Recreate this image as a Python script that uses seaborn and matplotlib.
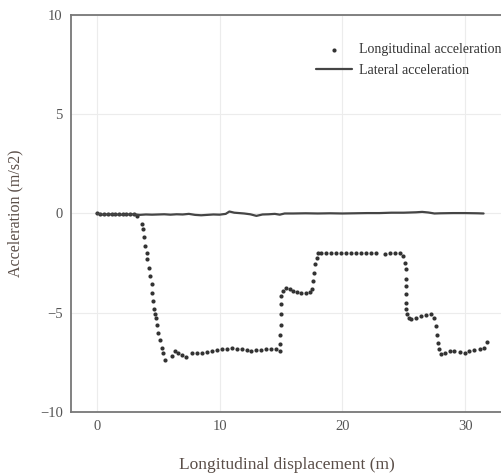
import matplotlib
matplotlib.use("Agg")
import matplotlib.pyplot as plt
import seaborn as sns
import pandas as pd

# Longitudinal acceleration (dots)
lon_x = [0.0, 0.3, 0.6, 0.9, 1.2, 1.5, 1.8, 2.1, 2.4, 2.7, 3.0, 3.25,
         3.66, 3.8, 3.85, 3.93, 4.07, 4.12, 4.25, 4.34, 4.47, 4.53, 4.6, 4.66,
         4.74, 4.8, 4.88, 5.0, 5.15, 5.28, 5.42, 5.56,
         6.1, 6.37, 6.64, 6.91, 7.26, 7.72, 8.13, 8.54, 8.94, 9.35, 9.76,
         10.16, 10.57, 10.98, 11.38, 11.79, 12.2, 12.6, 13.0, 13.4, 13.8,
         14.2, 14.58, 14.9, 14.9, 14.95, 14.97, 14.97, 14.98, 15.0,
         15.18, 15.45, 15.7, 16.0, 16.3, 16.67, 17.0, 17.34, 17.56,
         17.6, 17.67, 17.75, 17.9, 18.0, 18.3, 18.7, 19.1, 19.5, 19.9, 20.3,
         20.7, 21.1, 21.5, 21.95, 22.36, 22.76, 23.44, 23.85, 24.25, 24.66,
         24.93, 25.07, 25.15, 25.15, 25.15, 25.15, 25.2, 25.2, 25.26, 25.42,
         25.6, 26.0, 26.4, 26.8, 27.2, 27.5, 27.64, 27.7, 27.78, 27.86,
         28.05, 28.32, 28.73, 29.13, 29.54, 29.95, 30.35, 30.76, 31.17,
         31.57, 31.76]
lon_y = [0.0, -0.03, -0.02, -0.03, -0.04, -0.03, -0.05, -0.04, -0.03, -0.04, -0.05, -0.12,
         -0.54, -0.8, -1.2, -1.63, -1.97, -2.3, -2.73, -3.15, -3.57, -4.0, -4.4, -4.83,
         -5.08, -5.25, -5.6, -6.0, -6.35, -6.77, -7.02, -7.36,
         -7.19, -6.94, -7.05, -7.15, -7.24, -7.05, -7.02, -7.02, -6.99, -6.94, -6.9,
         -6.85, -6.82, -6.8, -6.82, -6.85, -6.89, -6.94, -6.9, -6.89, -6.85,
         -6.85, -6.85, -6.94, -6.6, -6.1, -5.6, -5.08, -4.58, -4.16,
         -3.9, -3.74, -3.82, -3.9, -3.96, -4.02, -4.02, -3.96, -3.82,
         -3.4, -2.98, -2.56, -2.22, -2.0, -2.0, -1.99, -2.0, -2.0, -1.99, -2.0,
         -2.0, -1.99, -2.0, -2.0, -2.0, -2.0, -2.02, -2.0, -2.0, -2.0,
         -2.14, -2.47, -2.81, -3.32, -3.65, -4.07, -4.5, -4.83, -5.08, -5.25,
         -5.34, -5.25, -5.17, -5.13, -5.08, -5.25, -5.67, -6.1, -6.52, -6.85,
         -7.1, -7.02, -6.94, -6.94, -6.99, -7.02, -6.94, -6.89, -6.85,
         -6.77, -6.48]

# Lateral acceleration (line)
lat_x = [0.0, 0.5, 1.0, 1.5, 2.0, 2.5, 3.0, 3.5, 4.0, 4.5, 5.0, 5.5, 6.0, 6.5,
         7.0, 7.5, 8.0, 8.5, 9.0, 9.5, 10.0, 10.5, 10.8, 11.2, 11.6, 12.0, 12.5,
         13.0, 13.5, 14.0, 14.5, 14.9, 15.3, 16.0, 17.0, 18.0, 19.0, 20.0, 21.0,
         22.0, 23.0, 24.0, 25.0, 26.0, 26.5, 27.0, 27.5, 28.0, 29.0, 30.0, 31.0, 31.5]
lat_y = [0.0, -0.06, -0.04, -0.05, -0.06, -0.05, -0.04, -0.07, -0.05, -0.06, -0.05, -0.04,
         -0.06, -0.04, -0.05, -0.02, -0.07, -0.09, -0.07, -0.05, -0.06, -0.02, 0.1, 0.04,
         0.02, 0.0, -0.04, -0.12, -0.05, -0.04, -0.02, -0.06, 0.0, 0.0, 0.01, 0.0, 0.01,
         0.0, 0.01, 0.02, 0.02, 0.04, 0.04, 0.06, 0.08, 0.05, 0.0, 0.01, 0.02, 0.02, 0.01, 0.0]

df_lon = pd.DataFrame({"x": lon_x, "y": lon_y})
df_lat = pd.DataFrame({"x": lat_x, "y": lat_y})

sns.set_theme(style="white")
plt.rcParams["font.family"] = ["Liberation Serif", "DejaVu Serif"]

fig = plt.figure(figsize=(5.02, 4.76), dpi=100)
ax = fig.add_axes([0.1414, 0.1345, 0.8586, 0.834])

sns.scatterplot(data=df_lon, x="x", y="y", ax=ax, color="#333333", s=9,
                linewidth=0, label="Longitudinal acceleration", zorder=3)
sns.lineplot(data=df_lat, x="x", y="y", ax=ax, color="#454545", linewidth=1.6,
             label="Lateral acceleration", zorder=4)

ax.set_xlim(-2.1, 33.0)
ax.set_ylim(-10, 10)
ax.set_xticks([0, 10, 20, 30])
ax.set_yticks([-10, -5, 0, 5, 10])
ax.set_xticklabels(["0", "10", "20", "30"])
ax.set_yticklabels(["\u221210", "\u22125", "0", "5", "10"])
ax.grid(True, color="#ececec", linewidth=0.8)
ax.tick_params(axis="both", length=0, labelsize=10.5, colors="#555555", pad=6)

for side in ["left", "bottom", "top"]:
    ax.spines[side].set_color("#777777")
    ax.spines[side].set_linewidth(1.3)
ax.spines["right"].set_visible(False)

ax.set_xlabel("Longitudinal displacement (m)", fontsize=12.5, color="#5a4e48", labelpad=17)
ax.set_ylabel("Acceleration (m/s2)", fontsize=11.5, color="#5a4e48", labelpad=12)

leg = ax.legend(loc="upper left", bbox_to_anchor=(0.555, 0.943), frameon=False,
                fontsize=10, handlelength=2.6, handletextpad=0.5, labelspacing=0.55,
                borderaxespad=0)
for t in leg.get_texts():
    t.set_color("#333333")

fig.savefig("out.png", dpi=100)
